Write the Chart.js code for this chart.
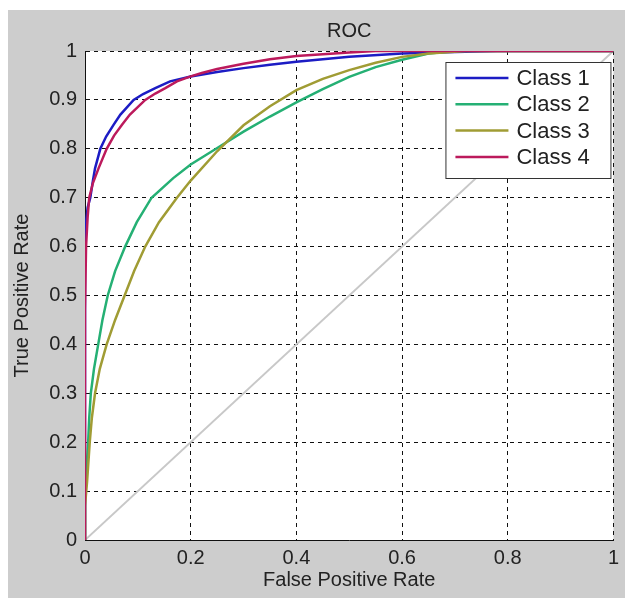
<!DOCTYPE html>
<html>
<head>
<meta charset="utf-8">
<script src="https://cdn.jsdelivr.net/npm/chart.js@4/dist/chart.umd.min.js"></script>
<style>
  html, body { margin: 0; padding: 0; background: #ffffff; }
  #frame { position: absolute; left: 8px; top: 10px; width: 617px; height: 588px; background: #cdcdcd; }
  #frame canvas { display: block; }
</style>
</head>
<body>
<div id="frame"><canvas id="rocGraph" width="617" height="588"></canvas></div>
<script>
// ROC points (false positive rate / true positive rate)
const fprClass1 = [0, 0, 0.002, 0.005, 0.01, 0.015, 0.019, 0.029, 0.04, 0.054, 0.067, 0.092, 0.11, 0.133, 0.161, 0.2, 0.25, 0.3, 0.35, 0.4, 0.5, 0.6, 0.7, 0.78, 1];
const tprClass1 = [0, 0.62, 0.65, 0.68, 0.7, 0.735, 0.76, 0.8, 0.825, 0.849, 0.87, 0.9, 0.912, 0.924, 0.938, 0.948, 0.957, 0.965, 0.972, 0.978, 0.988, 0.995, 0.998, 1, 1];

const fprClass2 = [0, 0, 0.003, 0.006, 0.008, 0.011, 0.017, 0.025, 0.033, 0.043, 0.057, 0.076, 0.098, 0.126, 0.167, 0.2, 0.248, 0.3, 0.35, 0.4, 0.45, 0.5, 0.55, 0.6, 0.65, 0.7, 1];
const tprClass2 = [0, 0.1, 0.15, 0.2, 0.25, 0.3, 0.35, 0.4, 0.45, 0.5, 0.55, 0.6, 0.65, 0.7, 0.74, 0.768, 0.8, 0.835, 0.866, 0.895, 0.922, 0.947, 0.967, 0.982, 0.995, 1, 1];

const fprClass3 = [0, 0, 0.004, 0.009, 0.013, 0.019, 0.028, 0.041, 0.057, 0.075, 0.093, 0.114, 0.14, 0.174, 0.2, 0.25, 0.3, 0.35, 0.4, 0.45, 0.5, 0.55, 0.6, 0.65, 0.72, 1];
const tprClass3 = [0, 0.07, 0.12, 0.2, 0.25, 0.3, 0.35, 0.4, 0.45, 0.5, 0.55, 0.6, 0.65, 0.7, 0.735, 0.795, 0.848, 0.887, 0.92, 0.943, 0.961, 0.976, 0.988, 0.995, 1, 1];

const fprClass4 = [0, 0, 0.002, 0.005, 0.008, 0.015, 0.026, 0.041, 0.055, 0.07, 0.085, 0.114, 0.133, 0.152, 0.174, 0.2, 0.221, 0.25, 0.3, 0.35, 0.4, 0.5, 0.55, 1];
const tprClass4 = [0, 0.47, 0.6, 0.66, 0.7, 0.73, 0.761, 0.8, 0.827, 0.849, 0.87, 0.9, 0.913, 0.924, 0.938, 0.948, 0.955, 0.963, 0.974, 0.983, 0.99, 0.997, 1, 1];

const fprChance = [0, 1];
const tprChance = [0, 1];

const classNames = ["Class 1", "Class 2", "Class 3", "Class 4"];
const classColors = ["#1c1cc4", "#25b074", "#a09c34", "#bc1a5c"];
const xTicks = ["0", "0.2", "0.4", "0.6", "0.8", "1"];
const yTicks = ["0", "0.1", "0.2", "0.3", "0.4", "0.5", "0.6", "0.7", "0.8", "0.9", "1"];

const fontFamily = "'Liberation Sans', Arial, sans-serif";
Chart.defaults.font.family = fontFamily;
Chart.defaults.font.size = 20;
Chart.defaults.color = "#222";

function to_points(xs, ys) {
    return xs.map((x, i) => ({ x: x, y: ys[i] }));
}

// white axes background, the figure itself stays grey
const whiteAxes = {
    id: "whiteAxes",
    beforeDraw(chart) {
        const area = chart.chartArea;
        chart.ctx.save();
        chart.ctx.fillStyle = "#ffffff";
        chart.ctx.fillRect(area.left, area.top, area.right - area.left, area.bottom - area.top);
        chart.ctx.restore();
    },
};

// legend box drawn inside the plot, like the matlab one
const insideLegend = {
    id: "insideLegend",
    afterDatasetsDraw(chart) {
        const ctx = chart.ctx;
        const area = chart.chartArea;
        const boxLeft = area.right - 168, boxTop = area.top + 11;
        const boxWidth = 165, boxHeight = 116;
        ctx.save();
        ctx.fillStyle = "#ffffff";
        ctx.fillRect(boxLeft, boxTop, boxWidth, boxHeight);
        ctx.strokeStyle = "#333";
        ctx.lineWidth = 1;
        ctx.strokeRect(boxLeft + 0.5, boxTop + 0.5, boxWidth, boxHeight);
        ctx.font = "22px " + fontFamily;
        ctx.textBaseline = "middle";
        chart.data.datasets.filter(d => d.inLegend).forEach((d, i) => {
            const y = boxTop + 16 + i * 26.3;
            ctx.strokeStyle = d.borderColor;
            ctx.lineWidth = 2.5;
            ctx.beginPath();
            ctx.moveTo(boxLeft + 10, y);
            ctx.lineTo(boxLeft + 63, y);
            ctx.stroke();
            ctx.fillStyle = "#222";
            ctx.fillText(d.label, boxLeft + 71, y + 1);
        });
        ctx.restore();
    },
};

const datasets = [
    { label: "chance", data: to_points(fprChance, tprChance), borderColor: "#c8c8c8", borderWidth: 2, order: 5, inLegend: false },
];
const fprs = [fprClass1, fprClass2, fprClass3, fprClass4];
const tprs = [tprClass1, tprClass2, tprClass3, tprClass4];
classNames.forEach((name, i) => {
    datasets.push({
        label: name,
        data: to_points(fprs[i], tprs[i]),
        borderColor: classColors[i],
        borderWidth: 2.5,
        order: 4 - i,
        inLegend: true,
    });
});
datasets.forEach(d => { d.pointRadius = 0; d.tension = 0; d.fill = false; });

const config = {
    type: "line",
    data: { datasets: datasets },
    options: {
        responsive: false,
        animation: false,
        layout: { padding: { left: 0, right: 10, top: 0, bottom: 0 } },
        plugins: {
            legend: { display: false },
            tooltip: { enabled: false },
            title: {
                display: true,
                text: "ROC",
                fullSize: false,
                color: "#222",
                font: { size: 20, weight: "normal" },
                padding: { top: 9, bottom: 8 },
            },
        },
        scales: {
            x: {
                type: "linear",
                min: 0,
                max: 1,
                afterFit: (scale) => { scale.height = 58; },
                ticks: {
                    stepSize: 0.2,
                    padding: 6,
                    maxRotation: 0,
                    callback: (value) => xTicks[Math.round(value * 5)],
                },
                grid: { color: "#111", lineWidth: 1, drawTicks: false },
                border: { display: true, color: "#111", width: 1, dash: [4, 4] },
                title: { display: true, text: "False Positive Rate", color: "#222", padding: { top: 0, bottom: 6 } },
            },
            y: {
                type: "linear",
                min: 0,
                max: 1,
                afterFit: (scale) => { scale.width = 77; },
                ticks: {
                    stepSize: 0.1,
                    padding: 8,
                    callback: (value) => yTicks[Math.round(value * 10)],
                },
                grid: { color: "#111", lineWidth: 1, drawTicks: false },
                border: { display: true, color: "#111", width: 1, dash: [4, 4] },
                title: { display: true, text: "True Positive Rate", color: "#222", padding: { top: 2, bottom: 0 } },
            },
        },
    },
    plugins: [whiteAxes, insideLegend],
};

const rocGraph = new Chart("rocGraph", config);
</script>
</body>
</html>
